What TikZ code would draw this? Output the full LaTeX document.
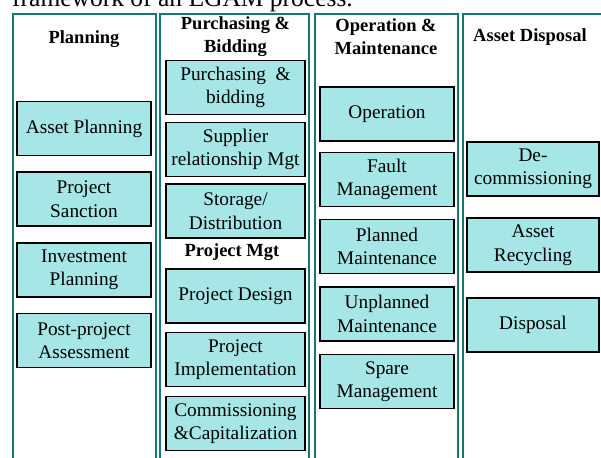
\documentclass[tikz,border=0pt]{standalone}
\usepackage{fontspec}
\setmainfont{Liberation Serif}
\definecolor{frameteal}{RGB}{22,120,114}
\definecolor{boxfill}{RGB}{166,230,230}
\begin{document}
\begin{tikzpicture}[x=1pt,y=-1pt,
  colframe/.style={draw=frameteal,line width=1.8pt},
  box/.style={draw=black,line width=1.3pt,fill=boxfill,inner sep=0pt,align=center,
    font=\fontsize{19.3}{23.5}\selectfont,minimum height=54pt},
  boxA/.style={box,minimum width=134pt},
  boxB/.style={box,minimum width=139pt},
  boxC/.style={box,minimum width=134pt},
  boxD/.style={box,minimum width=132pt},
  header/.style={inner sep=0pt,align=center,font=\fontsize{18.5}{23}\selectfont\bfseries}]
\useasboundingbox (0,0) rectangle (601,457);
% partially visible title
\node[anchor=base west,inner sep=0pt,font=\fontsize{25.5}{28}\selectfont] (title) at (12,7) {framework of an EGAM process.};
% column frames
\draw[colframe] (13,470) |- (156,14) -- (156,470);
\draw[colframe] (160,470) |- (309,14) -- (309,470);
\draw[colframe] (315,470) |- (458,14) -- (458,470);
\draw[colframe] (463,470) |- (620,14);
% headers
\node[header] (h1) at (84,39) {Planning};
\node[header] (h2) at (235.5,36.5) {Purchasing \&\\Bidding};
\node[header] (h3) at (386,36.5) {Operation \&\\Maintenance};
\node[header] (h4) at (530,37) {Asset Disposal};
\node[header] (h5) at (232,252) {Project Mgt};
% column 1
\node[boxA] (a1) at (84,128.5) {Asset Planning};
\node[boxA] (a2) at (84,199) {Project\\Sanction};
\node[boxA] (a3) at (84,270) {Investment\\Planning};
\node[boxA] (a4) at (84,340.5) {Post-project\\Assessment};
% column 2
\node[boxB] (b1) at (235.5,87.5) {Purchasing \ \&\\bidding};
\node[boxB] (b2) at (235.5,149.5) {Supplier\\relationship Mgt};
\node[boxB] (b3) at (235.5,211) {Storage/\\Distribution};
\node[boxB] (b4) at (235.5,296) {Project Design};
\node[boxB] (b5) at (235.5,359.5) {Project\\Implementation};
\node[boxB] (b6) at (235.5,423.5) {Commissioning\\\&Capitalization};
% column 3
\node[boxC] (c1) at (387,114) {Operation};
\node[boxC] (c2) at (387,179.5) {Fault\\Management};
\node[boxC] (c3) at (387,246.5) {Planned\\Maintenance};
\node[boxC] (c4) at (387,314) {Unplanned\\Maintenance};
\node[boxC] (c5) at (387,381.5) {Spare\\Management};
% column 4
\node[boxD] (d1) at (533,169) {De-\\commissioning};
\node[boxD] (d2) at (533,245) {Asset\\Recycling};
\node[boxD] (d3) at (533,325) {Disposal};
\end{tikzpicture}
\end{document}
